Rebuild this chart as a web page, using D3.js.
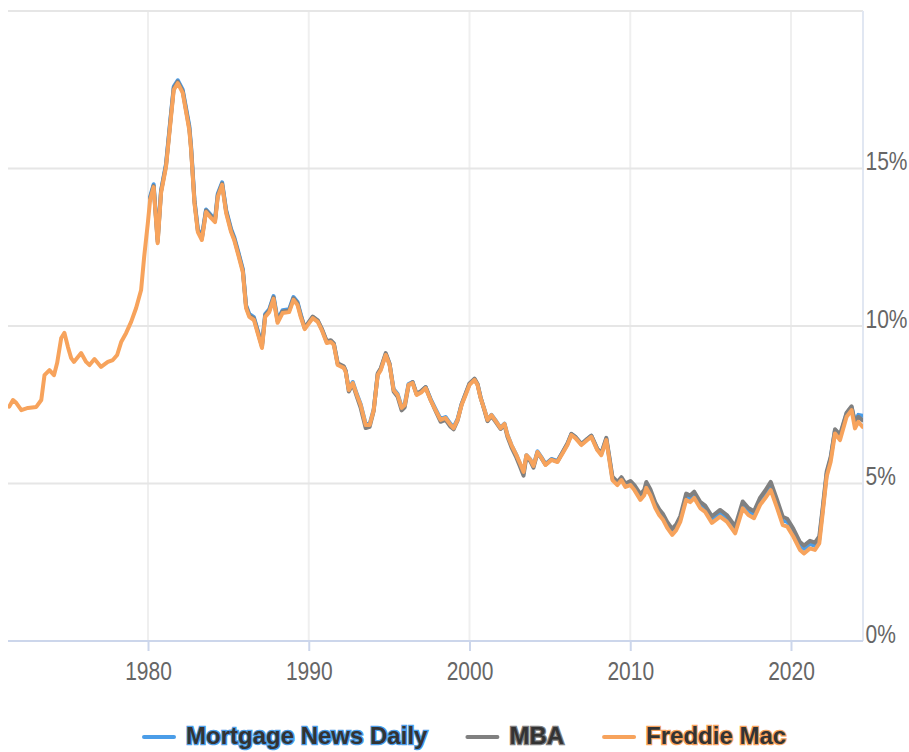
<!DOCTYPE html>
<html>
<head>
<meta charset="utf-8">
<script src="https://cdn.jsdelivr.net/npm/d3@7"></script>
<style>
  body { margin: 0; background: #fff; }
  svg { display: block; font-family: "Liberation Sans", Arial, sans-serif; }
</style>
</head>
<body>
<svg class="chart"></svg>
<script>
// decimal years shared by all three series
var years = [
  1971.37,1971.60,1971.80,1972.12,1972.53,1973.05,1973.36,1973.56,1973.87,1974.15,
  1974.35,1974.60,1974.80,1975.02,1975.22,1975.39,1975.84,1976.15,1976.36,1976.67,
  1977.08,1977.50,1977.81,1978.08,1978.33,1978.64,1978.95,1979.26,1979.57,1979.76,1979.99,
  1980.13,1980.35,1980.60,1980.81,1981.12,1981.43,1981.60,1981.85,1982.16,1982.57,
  1982.68,1982.89,1983.10,1983.35,1983.61,1983.92,1984.17,1984.34,1984.61,1984.86,
  1985.17,1985.36,1985.62,1985.90,1986.10,1986.30,1986.59,1986.82,1987.09,1987.29,
  1987.54,1987.81,1988.06,1988.37,1988.78,1989.05,1989.30,1989.50,
  1989.75,1990.25,1990.56,1990.81,1991.12,1991.37,1991.56,1991.80,1992.18,1992.30,
  1992.49,1992.74,1992.99,1993.23,1993.54,1993.79,1994.04,1994.29,1994.48,1994.79,
  1995.03,1995.28,1995.53,1995.78,1995.97,1996.21,1996.46,1996.71,1997.02,1997.27,
  1997.58,1997.89,1998.20,1998.51,1998.82,1999.01,1999.26,1999.51,1999.76,
  2000.00,2000.31,2000.50,2000.69,2000.94,2001.12,2001.37,2001.68,2001.93,2002.18,
  2002.36,2002.61,2002.92,2003.11,2003.36,2003.54,2003.79,2003.98,2004.23,2004.48,
  2004.73,2005.10,2005.47,2005.84,2006.09,2006.34,2006.59,2006.96,2007.33,2007.58,
  2007.95,2008.20,2008.51,2008.70,2008.89,2009.20,2009.45,2009.70,
  2010.01,2010.26,2010.63,2010.87,2011.00,2011.25,2011.56,2011.80,2012.05,2012.30,
  2012.61,2012.86,2013.11,2013.48,2013.73,2013.98,2014.35,2014.66,2015.08,2015.59,
  2016.01,2016.53,2017.00,2017.35,2017.70,2018.08,2018.39,2018.74,2019.11,2019.49,
  2019.77,2020.15,2020.56,2020.81,2021.18,2021.49,2021.76,2021.97,2022.22,2022.47,
  2022.74,2023.05,2023.46,2023.77,2023.98,2024.19,2024.45
];

var freddieMac = [
  7.44,7.65,7.56,7.33,7.40,7.43,7.65,8.44,8.60,8.44,
  8.83,9.62,9.78,9.33,8.98,8.86,9.14,8.86,8.76,8.95,
  8.70,8.86,8.92,9.08,9.49,9.78,10.13,10.57,11.14,12.19,13.27,
  14.00,14.41,12.63,14.22,15.05,16.63,17.49,17.71,17.40,16.22,
  15.59,13.90,12.98,12.73,13.62,13.43,13.30,14.10,14.48,13.59,
  12.98,12.73,12.25,11.71,10.57,10.29,10.19,9.78,9.30,10.29,
  10.44,10.86,10.10,10.41,10.44,10.83,10.67,10.29,
  9.90,10.25,10.13,9.87,9.46,9.49,9.40,8.76,8.67,8.54,
  7.97,8.19,7.81,7.49,6.86,6.86,7.33,8.44,8.60,9.08,
  8.76,7.97,7.81,7.40,7.49,8.13,8.19,7.81,7.90,8.03,
  7.65,7.33,7.02,7.08,6.86,6.76,7.02,7.49,7.81,
  8.13,8.29,8.13,7.71,7.33,7.02,7.17,6.95,6.76,6.89,
  6.54,6.22,5.90,5.68,5.37,5.90,5.75,5.56,6.00,5.81,
  5.59,5.75,5.68,6.00,6.22,6.54,6.44,6.22,6.38,6.48,
  6.06,5.90,6.38,5.75,5.11,4.95,5.11,4.89,
  4.95,4.79,4.48,4.63,4.86,4.63,4.22,4.00,3.84,3.59,
  3.37,3.52,3.78,4.48,4.41,4.54,4.22,4.10,3.75,3.95,
  3.79,3.42,4.21,4.00,3.90,4.32,4.53,4.79,4.26,3.68,
  3.63,3.31,2.89,2.78,2.94,2.89,3.10,4.05,5.22,5.69,
  6.59,6.38,7.12,7.33,6.75,6.96,6.80
];

// MBA and Mortgage News Daily begin in 1980 (the last values of years)
var mba = [
  14.05,14.45,12.68,14.27,15.10,16.70,17.55,17.76,17.45,16.28,
  15.64,13.95,13.03,12.78,13.67,13.48,13.35,14.15,14.52,13.64,
  13.03,12.78,12.30,11.76,10.62,10.34,10.24,9.83,9.35,10.34,
  10.49,10.91,10.15,10.46,10.49,10.88,10.72,10.34,
  9.95,10.30,10.18,9.92,9.52,9.55,9.45,8.82,8.72,8.58,
  7.92,8.15,7.76,7.40,6.76,6.80,7.30,8.50,8.66,9.14,
  8.80,7.92,7.75,7.32,7.42,8.12,8.22,7.84,7.95,8.06,
  7.66,7.30,6.96,7.02,6.80,6.72,7.00,7.52,7.86,
  8.18,8.33,8.16,7.74,7.30,6.98,7.14,6.92,6.73,6.86,
  6.48,6.15,5.82,5.58,5.25,5.85,5.70,5.50,5.98,5.80,
  5.60,5.76,5.70,6.04,6.27,6.58,6.48,6.25,6.42,6.52,
  6.10,5.96,6.45,5.85,5.22,5.05,5.20,5.00,
  5.08,4.95,4.66,4.80,5.05,4.82,4.40,4.18,4.02,3.78,
  3.56,3.70,3.96,4.68,4.62,4.74,4.42,4.30,3.96,4.16,
  4.00,3.64,4.43,4.22,4.12,4.55,4.77,5.05,4.52,3.94,
  3.88,3.56,3.14,3.03,3.18,3.12,3.32,4.22,5.38,5.85,
  6.72,6.55,7.25,7.45,6.92,7.12,7.01
];

var mortgageNewsDaily = [
  14.10,14.50,12.75,14.30,15.15,16.75,17.60,17.80,17.50,16.35,
  15.70,14.00,13.08,12.83,13.70,13.52,13.40,14.20,14.56,13.68,
  13.08,12.83,12.35,11.80,10.66,10.38,10.28,9.87,9.40,10.38,
  10.53,10.95,10.20,10.50,10.53,10.92,10.76,10.38,
  9.93,10.28,10.16,9.90,9.49,9.52,9.43,8.79,8.70,8.57,
  8.00,8.22,7.84,7.52,6.89,6.89,7.36,8.47,8.63,9.11,
  8.79,8.00,7.84,7.43,7.52,8.16,8.22,7.84,7.93,8.06,
  7.68,7.36,7.05,7.11,6.89,6.79,7.05,7.52,7.84,
  8.16,8.31,8.15,7.73,7.33,7.02,7.18,6.96,6.77,6.90,
  6.55,6.22,5.90,5.66,5.33,5.90,5.76,5.56,6.02,5.83,
  5.62,5.78,5.71,6.03,6.25,6.57,6.47,6.25,6.41,6.51,
  6.09,5.94,6.42,5.80,5.16,5.00,5.16,4.95,
  5.00,4.86,4.56,4.70,4.94,4.72,4.30,4.08,3.92,3.68,
  3.46,3.60,3.86,4.58,4.52,4.64,4.32,4.20,3.86,4.06,
  3.90,3.54,4.32,4.12,4.02,4.44,4.66,4.92,4.40,3.82,
  3.78,3.46,3.04,2.93,3.08,3.02,3.22,4.15,5.30,5.80,
  6.70,6.50,7.22,7.42,6.95,7.18,7.15
];

var xTicks = [1980, 1990, 2000, 2010, 2020];
var yTicks = [0, 5, 10, 15];
var yGrid = [5, 10, 15, 20];
var seriesNames = ["Mortgage News Daily", "MBA", "Freddie Mac"];
var seriesColors = ["#4b9de8", "#808080", "#f7a35c"];

var width = 909,
    height = 752;

var svg = d3.select(".chart").attr("width", width).attr("height", height),
    plot = {left: 8, right: 863, top: 11, bottom: 641};

var x = d3.scaleLinear()
    .domain([1971.29, 2024.48])
    .range([plot.left, plot.right]);

var y = d3.scaleLinear()
    .domain([0, 20])
    .range([plot.bottom, plot.top]);

function pairUp(values) {
  var offset = years.length - values.length;
  return values.map(function(v, i) { return [years[i + offset], v]; });
}

var series = [pairUp(mortgageNewsDaily), pairUp(mba), pairUp(freddieMac)];

// grid
svg.append("g")
  .selectAll("line")
  .data(xTicks)
  .enter().append("line")
    .attr("x1", function(d) { return x(d); })
    .attr("x2", function(d) { return x(d); })
    .attr("y1", plot.top)
    .attr("y2", plot.bottom)
    .attr("stroke", "#efefef")
    .attr("stroke-width", 2);

svg.append("g")
  .selectAll("line")
  .data(yGrid)
  .enter().append("line")
    .attr("x1", plot.left)
    .attr("x2", plot.right)
    .attr("y1", function(d) { return y(d); })
    .attr("y2", function(d) { return y(d); })
    .attr("stroke", "#e6e6e6")
    .attr("stroke-width", 2);

// right axis line
svg.append("line")
    .attr("x1", plot.right).attr("x2", plot.right)
    .attr("y1", plot.top).attr("y2", plot.bottom)
    .attr("stroke", "#e1e7f2")
    .attr("stroke-width", 2);

// lines
svg.append("clipPath").attr("id", "clip")
  .append("rect")
    .attr("x", plot.left).attr("y", 0)
    .attr("width", plot.right - plot.left).attr("height", plot.bottom);

var line = d3.line()
    .x(function(d) { return x(d[0]); })
    .y(function(d) { return y(d[1]); });

svg.append("g")
    .attr("clip-path", "url(#clip)")
  .selectAll("path")
  .data(series)
  .enter().append("path")
    .attr("d", line)
    .attr("fill", "none")
    .attr("stroke", function(d, i) { return seriesColors[i]; })
    .attr("stroke-width", 4)
    .attr("stroke-linejoin", "round")
    .attr("stroke-linecap", "round");

// x axis
var xAxis = svg.append("g")
    .attr("transform", "translate(0," + plot.bottom + ")")
    .call(d3.axisBottom(x).tickValues(xTicks).tickFormat(d3.format("d")).tickSize(10).tickSizeOuter(0).tickPadding(0));

xAxis.select(".domain")
    .attr("d", "M" + plot.left + ",0H" + plot.right)
    .attr("stroke", "#ccd6eb")
    .attr("stroke-width", 2);
xAxis.selectAll(".tick line").attr("stroke", "#ccd6eb").attr("stroke-width", 2);
xAxis.selectAll(".tick text")
    .attr("y", 39)
    .attr("dy", null)
    .attr("fill", "#666666")
    .attr("font-size", 25)
    .attr("transform", "scale(0.84,1)");

// y axis labels
var yAxis = svg.append("g")
    .attr("transform", "translate(" + plot.right + ",0)")
    .call(d3.axisRight(y).tickValues(yTicks).tickFormat(function(d) { return d + "%"; }).tickSize(0).tickPadding(3));

yAxis.select(".domain").remove();
yAxis.selectAll(".tick text")
    .attr("dy", null)
    .attr("y", 1)
    .attr("fill", "#666666")
    .attr("font-size", 25)
    .attr("transform", "scale(0.84,1)");

// legend
var legendX = 142, legendY = 737;
var legend = svg.append("g");
seriesNames.forEach(function(name, i) {
  var item = legend.append("g").attr("transform", "translate(" + legendX + "," + legendY + ")");
  item.append("line")
      .attr("x1", 2).attr("x2", 32)
      .attr("stroke", seriesColors[i])
      .attr("stroke-width", 4)
      .attr("stroke-linecap", "round");
  var t = item.append("text")
      .attr("x", 44)
      .attr("y", 7)
      .attr("font-size", 24)
      .attr("font-weight", "bold")
      .attr("fill", "#333333")
      .attr("stroke", seriesColors[i])
      .attr("stroke-width", 2.5)
      .attr("paint-order", "stroke")
      .text(name);
  legendX += 44 + t.node().getComputedTextLength() + 38;
});
</script>
</body>
</html>
